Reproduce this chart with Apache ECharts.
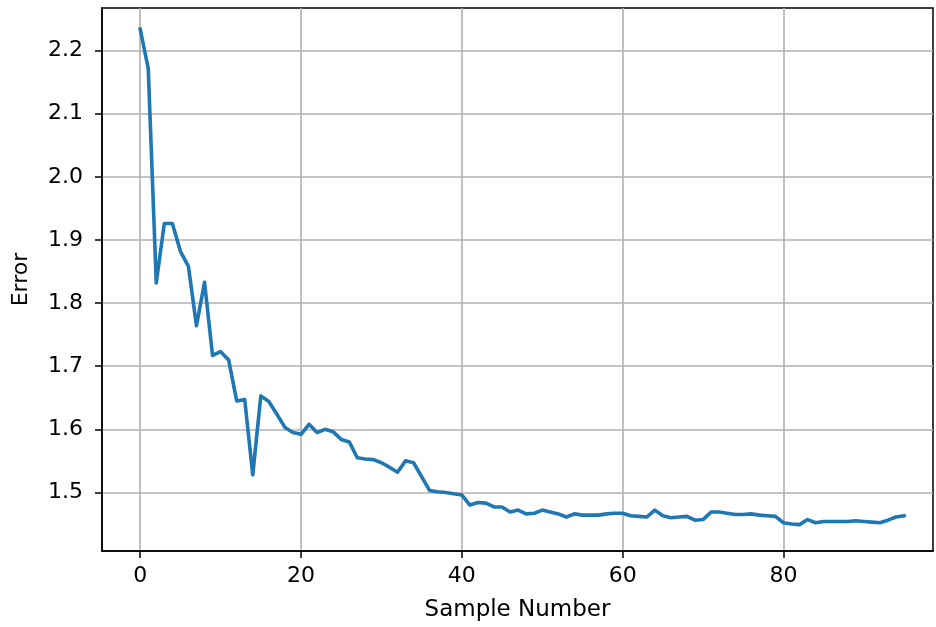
<!DOCTYPE html>
<html><head><meta charset="utf-8">
<script src="https://cdn.jsdelivr.net/npm/echarts@6/dist/echarts.min.js"></script>
<style>html,body{margin:0;padding:0;background:#fff}#c{width:936px;height:627px}</style>
</head><body><div id="c"></div>
<script>
const sampleNumbers = [0,1,2,3,4,5,6,7,8,9,10,11,12,13,14,15,16,17,18,19,
  20,21,22,23,24,25,26,27,28,29,30,31,32,33,34,35,36,37,38,39,
  40,41,42,43,44,45,46,47,48,49,50,51,52,53,54,55,56,57,58,59,
  60,61,62,63,64,65,66,67,68,69,70,71,72,73,74,75,76,77,78,79,
  80,81,82,83,84,85,86,87,88,89,90,91,92,93,94,95];
const errorValues = [2.234,2.172,1.832,1.926,1.926,1.882,1.858,1.764,1.833,1.717,
  1.723,1.710,1.645,1.647,1.528,1.653,1.644,1.624,1.603,1.595,
  1.592,1.608,1.595,1.600,1.596,1.584,1.580,1.555,1.553,1.552,
  1.547,1.540,1.532,1.550,1.547,1.525,1.503,1.501,1.500,1.498,
  1.496,1.480,1.484,1.483,1.477,1.477,1.469,1.472,1.466,1.467,
  1.472,1.469,1.466,1.461,1.466,1.464,1.464,1.464,1.466,1.467,
  1.467,1.463,1.462,1.461,1.472,1.463,1.460,1.461,1.462,1.456,
  1.457,1.469,1.469,1.467,1.465,1.465,1.466,1.464,1.463,1.462,
  1.452,1.450,1.449,1.457,1.452,1.454,1.454,1.454,1.454,1.455,
  1.454,1.453,1.452,1.456,1.461,1.463];
const xTickValues = [0,20,40,60,80];
const yTickValues = [1.5,1.6,1.7,1.8,1.9,2.0,2.1,2.2];
const xTitle = 'Sample Number';
const yTitle = 'Error';

const font = 'DejaVu Sans';
const chart = echarts.init(document.getElementById('c'), null, {renderer:'canvas'});
const pairs = sampleNumbers.map((x,i)=>[x, errorValues[i]]);
chart.setOption({
  animation:false,
  backgroundColor:'#ffffff',
  grid:{left:102,right:3,top:8,bottom:75,show:true,borderColor:'#000',borderWidth:1.5,backgroundColor:'transparent'},
  xAxis:{type:'value',min:-4.75,max:98.6,
    name:xTitle,nameLocation:'middle',nameGap:48,
    nameTextStyle:{fontFamily:font,fontSize:23,color:'#000'},
    axisLine:{show:true,onZero:false,lineStyle:{color:'#000',width:1.5}},
    axisTick:{show:true,inside:false,length:7,customValues:xTickValues,lineStyle:{color:'#000',width:1.5}},
    axisLabel:{show:true,margin:14,customValues:xTickValues,fontFamily:font,fontSize:22,color:'#000',
      formatter:v=>String(Math.round(v))},
    splitLine:{show:true,lineStyle:{color:'#b0b0b0',width:1.6}}
  },
  yAxis:{type:'value',min:1.4072,max:2.2675,
    name:yTitle,nameLocation:'middle',nameGap:70,nameRotate:90,
    nameTextStyle:{fontFamily:font,fontSize:22,color:'#000'},
    axisLine:{show:true,onZero:false,lineStyle:{color:'#000',width:1.5}},
    axisTick:{show:true,inside:false,length:7,customValues:yTickValues,lineStyle:{color:'#000',width:1.5}},
    axisLabel:{show:true,margin:19,customValues:yTickValues,fontFamily:font,fontSize:22,color:'#000',
      formatter:v=>v.toFixed(1)},
    splitLine:{show:true,lineStyle:{color:'#b0b0b0',width:1.6}}
  },
  series:[{type:'line',data:pairs,showSymbol:false,symbol:'none',
    lineStyle:{color:'#1f77b4',width:3.6,cap:'square',join:'round'},z:3}]
});
</script></body></html>
